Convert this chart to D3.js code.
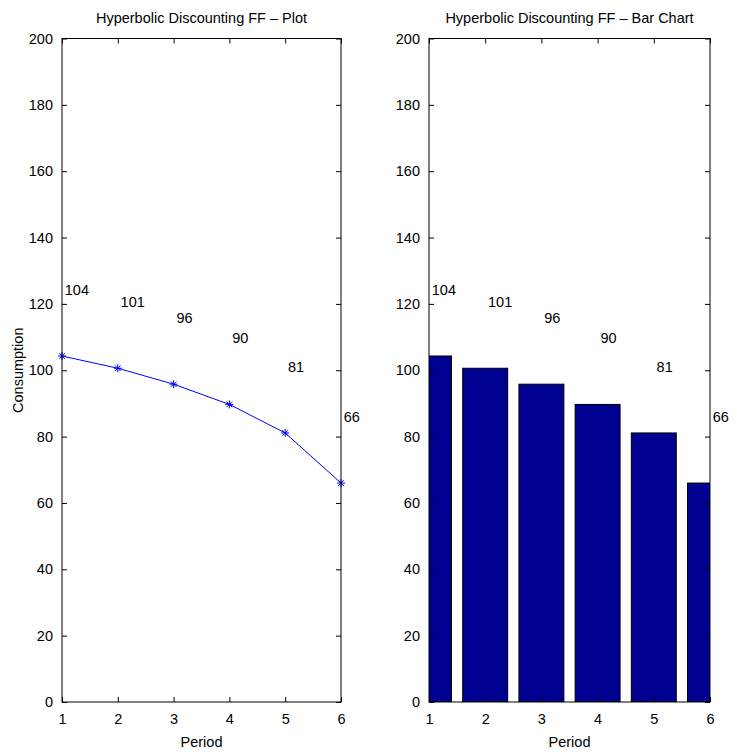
<!DOCTYPE html>
<html>
<head>
<meta charset="utf-8">
<script src="https://cdn.jsdelivr.net/npm/d3@7"></script>
<style>
  body { margin: 0; background: #fff; }
  svg { display: block; font-family: "Liberation Sans", Arial, Helvetica, sans-serif; }
</style>
</head>
<body>
<script>
const periods = [1, 2, 3, 4, 5, 6];
const consumption = [104.3, 100.6, 95.8, 89.7, 81.1, 66.0];
const valueLabels = ["104", "101", "96", "90", "81", "66"];
const yTicks = [0, 20, 40, 60, 80, 100, 120, 140, 160, 180, 200];
const titles = ["Hyperbolic Discounting FF \u2013 Plot", "Hyperbolic Discounting FF \u2013 Bar Chart"];

const width = 737;
const height = 755;
const plotTop = 38.5;
const plotBottom = 702;
const panels = [
  { left: 62, right: 341, kind: "plot" },
  { left: 429, right: 710, kind: "bar" },
];

const svg = d3
  .select("body")
  .append("svg")
  .attr("width", width)
  .attr("height", height);

const y = d3.scaleLinear().domain([0, 200]).range([plotBottom, plotTop]);

panels.forEach((p, i) => {
  const x = d3.scaleLinear().domain([1, 6]).range([p.left, p.right]);
  const g = svg.append("g");

  const clipId = `clip${i}`;
  svg
    .append("clipPath")
    .attr("id", clipId)
    .append("rect")
    .attr("x", p.left)
    .attr("y", plotTop)
    .attr("width", p.right - p.left)
    .attr("height", plotBottom - plotTop);

  if (p.kind === "bar") {
    g.append("g")
      .attr("clip-path", `url(#${clipId})`)
      .selectAll("rect")
      .data(periods)
      .join("rect")
      .attr("x", (d) => x(d - 0.4))
      .attr("width", (d) => x(d + 0.4) - x(d - 0.4))
      .attr("y", (d, j) => y(consumption[j]))
      .attr("height", (d, j) => y(0) - y(consumption[j]))
      .attr("fill", "#000090")
      .attr("stroke", "#000")
      .attr("stroke-width", 1);
  } else {
    const line = d3
      .line()
      .x((d) => x(d))
      .y((d, j) => y(consumption[j]));
    g.append("path")
      .datum(periods)
      .attr("d", line)
      .attr("fill", "none")
      .attr("stroke", "#0000ff")
      .attr("stroke-width", 1);
    const r = 4;
    const star = `M${-r},0H${r}M0,${-r}V${r}M${-r * 0.7},${-r * 0.7}L${r * 0.7},${r * 0.7}M${-r * 0.7},${r * 0.7}L${r * 0.7},${-r * 0.7}`;
    g.selectAll("path.marker")
      .data(periods)
      .join("path")
      .attr("class", "marker")
      .attr("transform", (d, j) => `translate(${x(d)},${y(consumption[j])})`)
      .attr("d", star)
      .attr("fill", "none")
      .attr("stroke", "#0000ff")
      .attr("stroke-width", 1);
  }

  // frame
  g.append("rect")
    .attr("x", p.left)
    .attr("y", plotTop)
    .attr("width", p.right - p.left)
    .attr("height", plotBottom - plotTop)
    .attr("fill", "none")
    .attr("stroke", "#000")
    .attr("stroke-width", 1);

  // axes with inward ticks
  const tk = 5;
  g.append("g")
    .attr("transform", `translate(0,${plotBottom})`)
    .call(d3.axisBottom(x).tickValues(periods).tickFormat(d3.format("d")).tickSizeInner(-tk).tickSizeOuter(0).tickPadding(12))
    .call((a) => a.select(".domain").remove());
  g.append("g")
    .attr("transform", `translate(0,${plotTop})`)
    .call(d3.axisTop(x).tickValues(periods).tickFormat("").tickSizeInner(-tk).tickSizeOuter(0))
    .call((a) => a.select(".domain").remove());
  g.append("g")
    .attr("transform", `translate(${p.left},0)`)
    .call(d3.axisLeft(y).tickValues(yTicks).tickFormat(d3.format("d")).tickSizeInner(-tk).tickSizeOuter(0).tickPadding(9))
    .call((a) => a.select(".domain").remove());
  g.append("g")
    .attr("transform", `translate(${p.right},0)`)
    .call(d3.axisRight(y).tickValues(yTicks).tickFormat("").tickSizeInner(-tk).tickSizeOuter(0))
    .call((a) => a.select(".domain").remove());

  g.selectAll(".tick text")
    .attr("font-family", "Liberation Sans, Arial, sans-serif")
    .attr("font-size", 14.5)
    .attr("fill", "#000");
  g.selectAll(".tick line").attr("stroke", "#000");

  // value labels
  g.selectAll("text.val")
    .data(periods)
    .join("text")
    .attr("class", "val")
    .attr("x", (d) => x(d + 0.05))
    .attr("y", (d, j) => y(consumption[j] + 20))
    .attr("dy", "0.35em")
    .attr("font-size", 14.5)
    .text((d, j) => valueLabels[j]);

  // title
  g.append("text")
    .attr("x", (p.left + p.right) / 2)
    .attr("y", 23)
    .attr("text-anchor", "middle")
    .attr("font-size", 14.5)
    .text(titles[i]);

  // x label
  g.append("text")
    .attr("x", (p.left + p.right) / 2)
    .attr("y", 747)
    .attr("text-anchor", "middle")
    .attr("font-size", 14.5)
    .text("Period");
});

svg.append("text")
  .attr("transform", `translate(23,${(plotTop + plotBottom) / 2}) rotate(-90)`)
  .attr("text-anchor", "middle")
  .attr("font-size", 14.5)
  .text("Consumption");
</script>
</body>
</html>
